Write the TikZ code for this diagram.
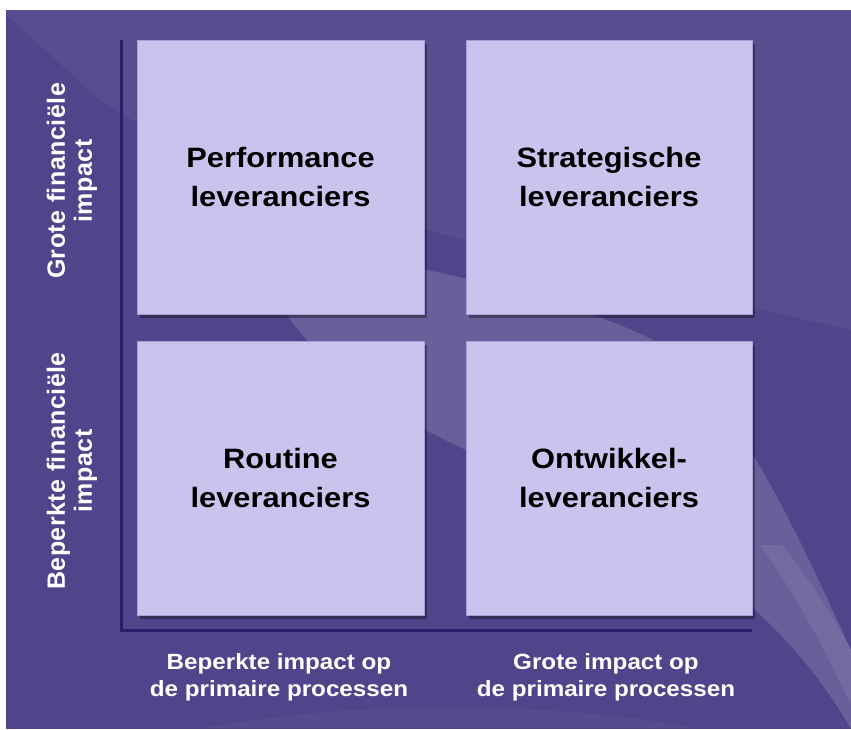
\documentclass[tikz,border=0pt]{standalone}
\usepackage{fontspec}
\setmainfont{Liberation Sans}
\newfontfamily\sfb[FakeStretch=1.1]{Liberation Sans}
\newfontfamily\vfb[LetterSpace=2]{Liberation Sans}
\usetikzlibrary{shadows}
\definecolor{bgbase}{HTML}{51448A}
\definecolor{quadfill}{HTML}{CBC3EE}
\definecolor{quadedge}{HTML}{A99DD9}
\definecolor{axiscol}{HTML}{2C1C6E}
\tikzset{
  quad/.style={draw=quadedge, line width=0.8pt, fill=quadfill,
    minimum width=287pt, minimum height=274pt, inner sep=0pt,
    align=center, text=black,
    font=\sfb\bfseries\fontsize{28}{39}\selectfont,
    drop shadow={shadow xshift=3pt, shadow yshift=-4pt, opacity=0.35, fill=black}},
  axisline/.style={draw=axiscol, line width=3pt},
  xlabel/.style={align=center, text=white, font=\sfb\bfseries\fontsize{22}{27}\selectfont},
  ylabel/.style={align=center, text=white, rotate=90, font=\vfb\bfseries\fontsize{25}{27}\selectfont},
}
\begin{document}
\begin{tikzpicture}[x=1pt,y=-1pt]
\useasboundingbox (0,0) rectangle (851,729);
\fill[white] (0,0) rectangle (851,729);
% background
\fill[bgbase] (6,10) rectangle (851,729);
\fill[white, opacity=0.05] (6,14) -- (100,100) .. controls (250,200) and (500,250) .. (851,330) -- (851,10) -- (6,10) -- cycle;
% main swoosh
\fill[white, opacity=0.15] (240,240) .. controls (350,250) and (550,290) .. (647,337)
  .. controls (730,380) and (800,540) .. (851,650) -- (851,729)
  .. controls (760,570) and (600,500) .. (466,450)
  .. controls (380,410) and (300,360) .. (240,240) -- cycle;
% inner bright streak
\fill[white, opacity=0.08] (760,545) .. controls (800,600) and (830,660) .. (851,705)
  -- (851,650) .. controls (830,610) and (805,575) .. (783,545) -- cycle;
\fill[white, opacity=0.04] (6,729) -- (200,729) .. controls (350,700) and (550,700) .. (700,729) -- cycle;
% quadrants
\node[quad] (pl) at (280.5,177) {Performance\\leveranciers};
\node[quad, minimum width=286pt] (sl) at (609,177) {Strategische\\leveranciers};
\node[quad] (rl) at (280.5,478) {Routine\\leveranciers};
\node[quad, minimum width=286pt] (ol) at (609,478) {Ontwikkel-\\leveranciers};
% axes
\coordinate (ytop) at (121.5,40);
\coordinate (orig) at (121.5,630);
\coordinate (xend) at (752,630);
\draw[axisline] (ytop) -- (orig) -- (xend);
% axis labels
\node[xlabel] (xl1) at (279,677) {Beperkte impact op\\de primaire processen};
\node[xlabel] (xl2) at (606,677) {Grote impact op\\de primaire processen};
\node[ylabel] (yl1) at (72,181) {Grote financiële\\impact};
\node[ylabel] (yl2) at (72,471) {Beperkte financiële\\impact};
\end{tikzpicture}
\end{document}
